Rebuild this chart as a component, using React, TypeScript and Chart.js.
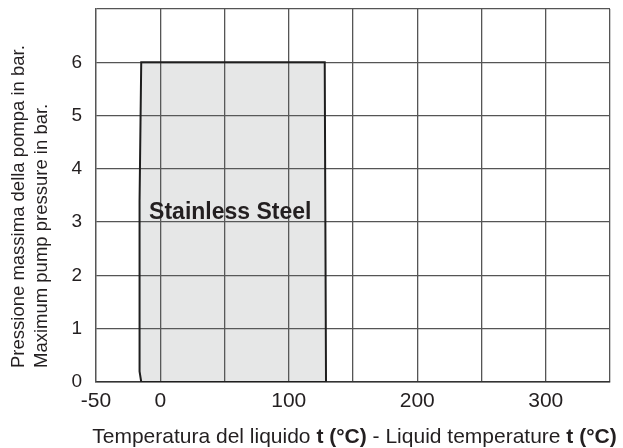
import React, { useEffect, useRef } from 'react';
import { Chart, registerables } from 'chart.js';

Chart.register(...registerables);

// ---- data ----
const xMin = -50;
const xMax = 350;
const xStep = 50;
const xTickLabels = [-50, 0, 100, 200, 300];
const yMin = 0;
const yMax = 7;
const yStep = 1;
const yTickLabels = [0, 1, 2, 3, 4, 5, 6];

// operating region (temperature, pressure) outline
const regionX = [-14.8, -16.1, -16.1, -14.8, 128, 129, -14.8];
const regionY = [0, 0.2, 3.4, 6, 6, 0, 0];
const regionLabel = 'Stainless Steel';
const regionLabelX = 54.5;
const regionLabelY = 3.05;

const yTitleLines = ['Pressione massima della pompa in bar.', 'Maximum pump pressure in bar.'];
const xTitleParts: [string, boolean][] = [
  ['Temperatura del liquido ', false],
  ['t (°C)', true],
  [' - Liquid temperature ', false],
  ['t (°C)', true],
];

const FONT = '"Liberation Sans", Arial, sans-serif';
const TEXT = '#231f20';

const textPlugin = {
  id: 'customText',
  afterDatasetsDraw(chart: any) {
    const ctx = chart.ctx;
    const xs = chart.scales.x;
    const ys = chart.scales.y;
    ctx.save();
    ctx.fillStyle = TEXT;
    ctx.font = `bold 23px ${FONT}`;
    ctx.textAlign = 'center';
    ctx.textBaseline = 'alphabetic';
    ctx.fillText(regionLabel, xs.getPixelForValue(regionLabelX), ys.getPixelForValue(regionLabelY));
    ctx.restore();
  },
  afterDraw(chart: any) {
    const ctx = chart.ctx;
    ctx.save();
    ctx.fillStyle = TEXT;
    const fs = 21;
    let total = 0;
    const widths = xTitleParts.map(([t, b]) => {
      ctx.font = `${b ? 'bold ' : ''}${fs}px ${FONT}`;
      const w = ctx.measureText(t).width;
      total += w;
      return w;
    });
    let x = 354.5 - total / 2;
    ctx.textAlign = 'left';
    ctx.textBaseline = 'alphabetic';
    xTitleParts.forEach(([t, b], i) => {
      ctx.font = `${b ? 'bold ' : ''}${fs}px ${FONT}`;
      ctx.fillText(t, x, 443);
      x += widths[i];
    });
    ctx.font = `18.5px ${FONT}`;
    const baseX = [23.5, 46.8];
    yTitleLines.forEach((line, i) => {
      ctx.save();
      ctx.translate(baseX[i], 368);
      ctx.rotate(-Math.PI / 2);
      ctx.textAlign = 'left';
      ctx.textBaseline = 'alphabetic';
      ctx.fillText(line, 0, 0);
      ctx.restore();
    });
    ctx.restore();
  },
};

export default function App() {
  const ref = useRef<HTMLCanvasElement>(null);
  useEffect(() => {
    if (!ref.current) return;
    const chart = new Chart(ref.current, {
      type: 'scatter',
      data: {
        datasets: [
          {
            data: regionX.map((x, i) => ({ x, y: regionY[i] })),
            showLine: true,
            fill: 'shape',
            tension: 0,
            pointRadius: 0,
            borderColor: '#1e1e1e',
            borderWidth: 2,
            backgroundColor: 'rgba(105,110,115,0.167)',
          } as any,
        ],
      },
      options: {
        animation: false,
        responsive: false,
        devicePixelRatio: 1,
        layout: { padding: { left: 0, top: 9, right: 13, bottom: 0 } },
        plugins: { legend: { display: false }, tooltip: { enabled: false } },
        scales: {
          x: {
            type: 'linear',
            min: xMin,
            max: xMax,
            afterFit: (s: any) => {
              s.height = 66;
              s.paddingLeft = 0;
              s.paddingRight = 0;
              s.paddingTop = 0;
              s.paddingBottom = 0;
            },
            grid: { color: '#555', lineWidth: 1.3, drawTicks: false },
            border: { color: '#333', width: 1.6 },
            ticks: {
              stepSize: xStep,
              padding: 7,
              color: TEXT,
              font: { family: FONT, size: 21 },
              maxRotation: 0,
              autoSkip: false,
              callback: (v: any) => (xTickLabels.includes(Number(v)) ? String(v) : ''),
            },
          },
          y: {
            type: 'linear',
            min: yMin,
            max: yMax,
            afterFit: (s: any) => {
              s.width = 96;
              s.paddingLeft = 0;
              s.paddingRight = 0;
              s.paddingTop = 0;
              s.paddingBottom = 0;
            },
            grid: { color: '#555', lineWidth: 1.3, drawTicks: false },
            border: { color: '#555', width: 1.3 },
            ticks: {
              stepSize: yStep,
              padding: 14,
              color: TEXT,
              font: { family: FONT, size: 19 },
              callback: (v: any) => (yTickLabels.includes(Number(v)) ? String(v) : ''),
            },
          },
        },
      },
      plugins: [textPlugin],
    });
    return () => chart.destroy();
  }, []);
  return (
    <div style={{ position: 'fixed', left: 0, top: 0, width: 623, height: 448, background: '#fff' }}>
      <canvas ref={ref} width={623} height={448} />
    </div>
  );
}
